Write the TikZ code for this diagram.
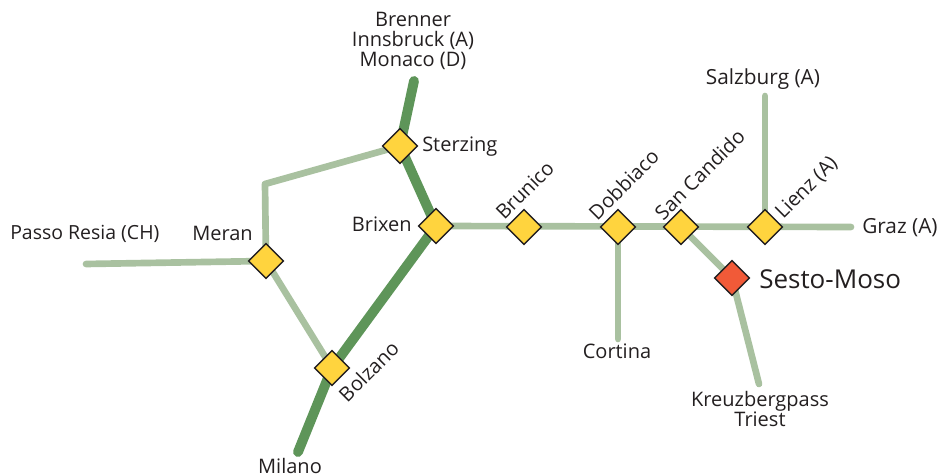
\documentclass[tikz,border=0pt]{standalone}
\usepackage{fontspec}
\setmainfont{Open Sans}
\usetikzlibrary{shapes.geometric}
\definecolor{lightline}{RGB}{169,193,160}
\definecolor{darkline}{RGB}{94,149,89}
\definecolor{townfill}{RGB}{255,212,62}
\definecolor{sestofill}{RGB}{241,90,56}
\definecolor{labeltext}{RGB}{35,31,32}
\tikzset{
    town/.style={diamond, draw=labeltext, line width=1.1pt, fill=townfill, minimum width=26.5pt, minimum height=26.5pt, inner sep=0pt},
    sesto/.style={town, fill=sestofill},
    minor/.style={lightline, line width=5pt, line cap=round, line join=round},
    major/.style={darkline, line width=7.4pt, line cap=round},
    place/.style={text=labeltext, font=\fontsize{15}{15}\selectfont, inner sep=0pt, align=center},
}

\begin{document}
\begin{tikzpicture}[x=0.75pt, y=-0.75pt]
    \useasboundingbox (0,0) rectangle (940,474);

    % Free line ends
    \coordinate (brennerend) at (414,81);
    \coordinate (milanoend) at (298,452);
    \coordinate (passoend) at (86,264);
    \coordinate (bend) at (265,184);
    \coordinate (salzburgend) at (765,96);
    \coordinate (grazend) at (851,227);
    \coordinate (cortinaend) at (618,339);
    \coordinate (triestend) at (759,384);

    % Stops
    \coordinate (sterzingpos) at (400,146);
    \coordinate (brixenpos) at (436,226);
    \coordinate (bolzanopos) at (332,368);
    \coordinate (meranpos) at (266,261);
    \coordinate (brunicopos) at (524,227);
    \coordinate (dobbiacopos) at (618,227);
    \coordinate (candidopos) at (681,227);
    \coordinate (lienzpos) at (765,227);
    \coordinate (sestopos) at (732,278);

    % Minor lines
    \draw[minor] (sterzingpos) -- (bend) -- (meranpos);
    \draw[minor] (passoend) -- (meranpos) -- (bolzanopos);
    \draw[minor] (brixenpos) -- (grazend);
    \draw[minor] (salzburgend) -- (lienzpos);
    \draw[minor] (cortinaend) -- (dobbiacopos);
    \draw[minor] (candidopos) -- (sestopos) -- (triestend);

    % Main line
    \draw[major] (brennerend) -- (sterzingpos) -- (brixenpos) -- (bolzanopos) -- (milanoend);

    % Diamonds
    \node[town] (sterzing) at (sterzingpos) {};
    \node[town] (brixen) at (brixenpos) {};
    \node[town] (bolzano) at (bolzanopos) {};
    \node[town] (meran) at (meranpos) {};
    \node[town] (brunico) at (brunicopos) {};
    \node[town] (dobbiaco) at (dobbiacopos) {};
    \node[town] (candido) at (candidopos) {};
    \node[town] (lienz) at (lienzpos) {};
    \node[sesto] (sestomoso) at (sestopos) {};

    % Labels
    \node[place] (brennerlabel) at (413,41) {Brenner\\Innsbruck (A)\\Monaco (D)};
    \node[place, anchor=west] (sterzinglabel) at (422,147) {Sterzing};
    \node[place, anchor=east] (brixenlabel) at (412,224) {Brixen};
    \node[place, anchor=east] (meranlabel) at (253,233) {Meran};
    \node[place, anchor=west, font=\fontsize{14.6}{15}\selectfont] (passolabel) at (10,234) {Passo Resia (CH)};
    \node[place, rotate=45, anchor=west] (bolzanolabel) at (342,398) {Bolzano};
    \node[place, rotate=45, anchor=west] (brunicolabel) at (499,216) {Brunico};
    \node[place, rotate=45, anchor=west] (dobbiacolabel) at (592,216) {Dobbiaco};
    \node[place, rotate=45, anchor=west] (candidolabel) at (658,216) {San Candido};
    \node[place, rotate=45, anchor=west] (lienzlabel) at (779,216) {Lienz (A)};
    \node[place, font=\fontsize{15.6}{15}\selectfont] (salzburglabel) at (763,79) {Salzburg (A)};
    \node[place, anchor=west, font=\fontsize{15.6}{15}\selectfont] (grazlabel) at (862,228) {Graz (A)};
    \node[place] (cortinalabel) at (617,351) {Cortina};
    \node[place] (triestlabel) at (760,409) {Kreuzbergpass\\Triest};
    \node[place] (milanolabel) at (290,466) {Milano};
    \node[place, anchor=west, font=\fontsize{19.5}{21}\selectfont] (sestolabel) at (759,279) {Sesto-Moso};
\end{tikzpicture}
\end{document}
